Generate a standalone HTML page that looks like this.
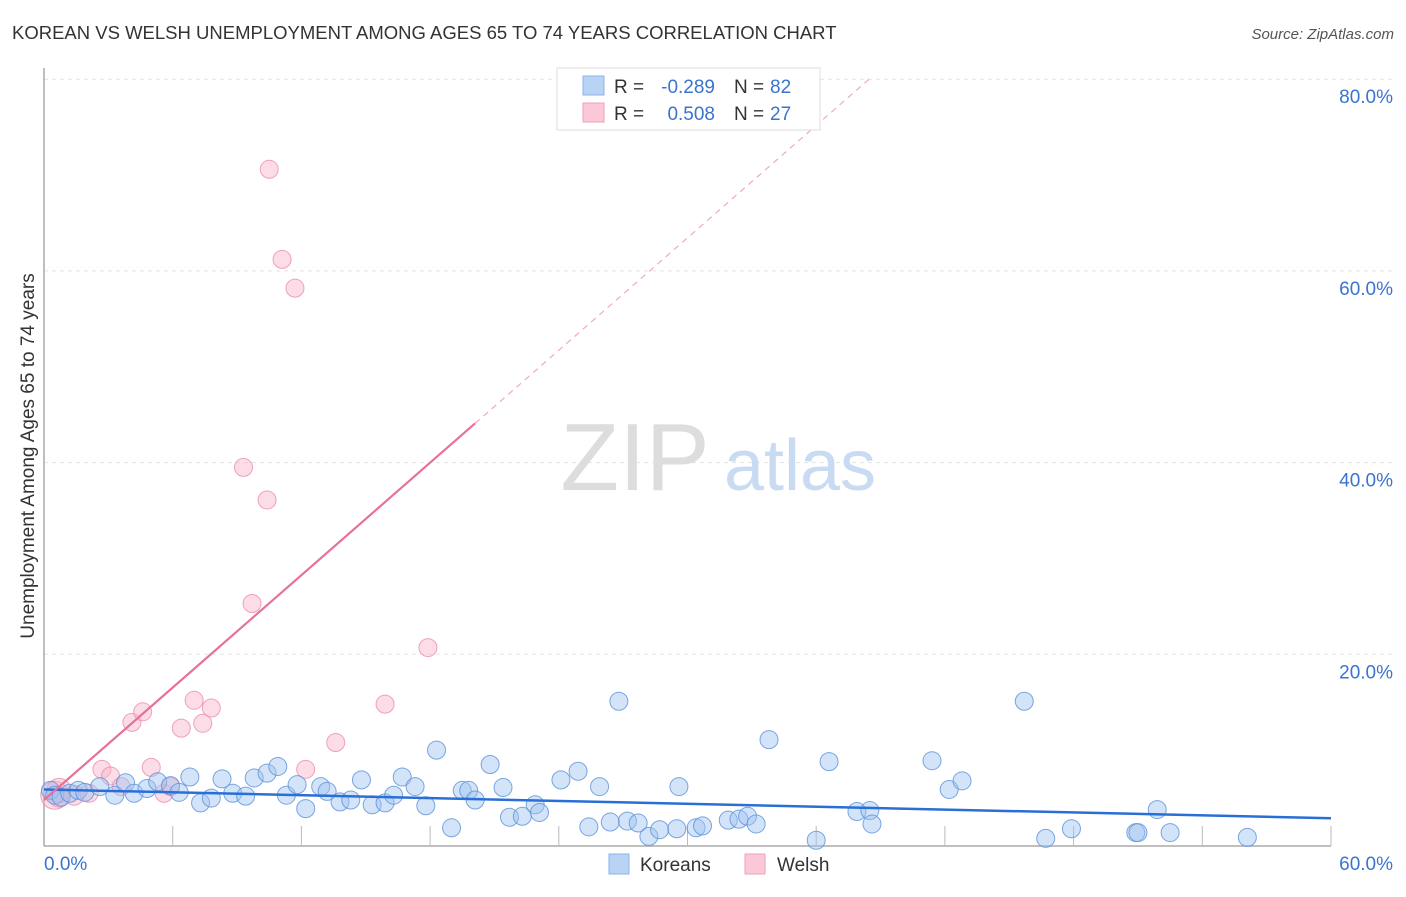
<!DOCTYPE html>
<html><head><meta charset="utf-8">
<style>
body{margin:0;background:#fff;font-family:"Liberation Sans",sans-serif;}
svg text{font-family:"Liberation Sans",sans-serif;}
</style></head>
<body>
<svg id="chart" width="1406" height="892" viewBox="0 0 1406 892" xmlns="http://www.w3.org/2000/svg">
<text x="12" y="39" font-size="18.5" fill="#333">KOREAN VS WELSH UNEMPLOYMENT AMONG AGES 65 TO 74 YEARS CORRELATION CHART</text>
<text x="1394" y="39" font-size="15" fill="#555" font-style="italic" text-anchor="end">Source: ZipAtlas.com</text>
<g id="grid"></g>
<text x="635" y="490" font-size="96" fill="#ddd" text-anchor="middle" font-family="Liberation Serif">ZIP</text>
<text x="800" y="490" font-size="72" fill="#c9dbf3" text-anchor="middle">atlas</text>
<g id="axes"></g>
<g id="welsh"></g>
<g id="korean"></g>
<g id="trends"></g>
<text x="34" y="456" font-size="19" fill="#333" text-anchor="middle" transform="rotate(-90 34 456)">Unemployment Among Ages 65 to 74 years</text>
<g>
<rect x="557" y="68" width="263" height="62" fill="#fff" stroke="#ddd"/>
<rect x="583" y="76" width="21" height="19" fill="#b9d3f5" stroke="#8bb3ea"/>
<rect x="583" y="103" width="21" height="19" fill="#fbc8d7" stroke="#f0a0b8"/>
<text x="614" y="93" font-size="19" fill="#333">R =</text>
<text x="715" y="93" font-size="19" fill="#3a74d0" text-anchor="end">-0.289</text>
<text x="734" y="93" font-size="19" fill="#333">N =</text>
<text x="770" y="93" font-size="19" fill="#3a74d0">82</text>
<text x="614" y="120" font-size="19" fill="#333">R =</text>
<text x="715" y="120" font-size="19" fill="#3a74d0" text-anchor="end">0.508</text>
<text x="734" y="120" font-size="19" fill="#333">N =</text>
<text x="770" y="120" font-size="19" fill="#3a74d0">27</text>
</g>
<g>
<rect x="609" y="854" width="20" height="20" fill="#b9d3f5" stroke="#8bb3ea"/>
<text x="640" y="871" font-size="19" fill="#333">Koreans</text>
<rect x="745" y="854" width="20" height="20" fill="#fbc8d7" stroke="#f0a0b8"/>
<text x="777" y="871" font-size="19" fill="#333">Welsh</text>
</g>
</svg>
<script>
const xTicks=[0,6,12,18,24,30,36,42,48,54,60];
const yTicks=[20,40,60,80];
const yTickLabels=["20.0%","40.0%","60.0%","80.0%"];
const koreanX=[0.3,0.5,0.8,1.2,1.6,1.9,2.6,3.3,3.8,4.2,4.8,5.3,5.9,6.3,6.8,7.3,7.8,8.3,8.8,9.4,9.8,10.4,10.9,11.3,11.8,12.2,12.9,13.2,13.8,14.3,14.8,15.3,15.9,16.3,16.7,17.3,17.8,18.3,19.0,19.5,19.8,20.1,20.8,21.4,21.7,22.3,22.9,23.1,24.1,24.9,25.4,25.9,26.4,26.8,27.2,27.7,28.2,28.7,29.5,29.6,30.4,30.7,31.9,32.4,32.8,33.2,33.8,36.0,36.6,37.9,38.5,38.6,41.4,42.2,42.8,45.7,46.7,47.9,50.9,51.0,51.9,52.5,56.1];
const koreanY=[5.8,5.3,5.1,5.5,5.8,5.6,6.2,5.3,6.6,5.5,6.0,6.7,6.3,5.6,7.2,4.5,5.0,7.0,5.5,5.2,7.1,7.6,8.3,5.3,6.4,3.9,6.2,5.7,4.6,4.8,6.9,4.3,4.5,5.3,7.2,6.2,4.2,10.0,1.9,5.8,5.8,4.8,8.5,6.1,3.0,3.1,4.3,3.5,6.9,7.8,2.0,6.2,2.5,15.1,2.6,2.4,1.0,1.7,1.8,6.2,1.9,2.1,2.7,2.8,3.1,2.3,11.1,0.6,8.8,3.6,3.7,2.3,8.9,5.9,6.8,15.1,0.8,1.8,1.4,1.4,3.8,1.4,0.9];
const welshX=[0.5,0.7,1.4,2.1,2.7,3.1,3.6,4.1,4.6,5.0,5.6,5.9,6.4,7.0,7.4,7.8,9.3,9.7,10.4,10.5,11.1,11.7,12.2,13.6,15.9,17.9,0.7];
const welshY=[5.3,5.1,5.3,5.5,8.0,7.3,6.2,12.9,14.0,8.2,5.5,6.2,12.3,15.2,12.8,14.4,39.5,25.3,36.1,70.6,61.2,58.2,8.0,10.8,14.8,20.7,5.8];
const welshR=[14,10,10,9,9,9,9,9,9,9,9,9,9,9,9,9,9,9,9,9,9,9,9,9,9,9,12];
const koreanTrend=[5.9,2.9];
const welshTrend=[4.8,1.955];
const NS="http://www.w3.org/2000/svg";
const X0=44,X1=1331,Y0=846,YPER=9.585;
function sx(v){return X0+(X1-X0)*v/60;}
function sy(v){return Y0-v*YPER;}
function mk(tag,attrs,parent){const e=document.createElementNS(NS,tag);for(const k in attrs)e.setAttribute(k,attrs[k]);parent.appendChild(e);return e;}
const gridG=document.getElementById('grid'),axesG=document.getElementById('axes');
yTicks.forEach((t,i)=>{
 const g=mk('line',{x1:X0,x2:1394,y1:sy(t),y2:sy(t),stroke:'#e3e3e3','stroke-dasharray':'4,4'},gridG);
 
 
 const tx=mk('text',{x:1393,y:sy(t)+24,'font-size':19,fill:'#3a74d0','text-anchor':'end'},axesG);
 tx.textContent=yTickLabels[i];
 
 
});
const ya=mk('line',{x1:X0,x2:X0,y1:68,y2:Y0,stroke:'#aaa','stroke-width':1.5},axesG);


const xa=mk('line',{x1:X0,x2:X1,y1:Y0,y2:Y0,stroke:'#aaa','stroke-width':1.5},axesG);


xTicks.forEach(t=>{
 if(t===0)return;
 const l=mk('line',{x1:sx(t),x2:sx(t),y1:826,y2:Y0,stroke:'#bbb'},axesG);
 
 
});
const xl0=mk('text',{x:44,y:870,'font-size':19,fill:'#3a74d0'},axesG);xl0.textContent='0.0%';


const xl1=mk('text',{x:1393,y:870,'font-size':19,fill:'#3a74d0','text-anchor':'end'},axesG);xl1.textContent='60.0%';


const wg=document.getElementById('welsh');
welshX.forEach((v,i)=>{
 const c=mk('circle',{cx:sx(v),cy:sy(welshY[i]),r:welshR[i],fill:'rgba(248,180,202,0.45)',stroke:'rgba(236,140,170,0.8)','stroke-width':1},wg);
 
 
});
const kg=document.getElementById('korean');
koreanX.forEach((v,i)=>{
 const c=mk('circle',{cx:sx(v),cy:sy(koreanY[i]),r:9,fill:'rgba(160,196,240,0.45)',stroke:'rgba(90,145,220,0.8)','stroke-width':1},kg);
 
 
});
const tg=document.getElementById('trends');
const kt=mk('line',{x1:sx(0),y1:sy(koreanTrend[0]),x2:sx(60),y2:sy(koreanTrend[1]),stroke:'#2a6fd6','stroke-width':2.5},tg);


const wEnd=20.1, wMax=(80-welshTrend[0])/welshTrend[1];
const wt=mk('line',{x1:sx(0),y1:sy(welshTrend[0]),x2:sx(wEnd),y2:sy(welshTrend[0]+welshTrend[1]*wEnd),stroke:'#e8709a','stroke-width':2.2},tg);


const wd=mk('line',{x1:sx(wEnd),y1:sy(welshTrend[0]+welshTrend[1]*wEnd),x2:sx(wMax),y2:sy(80),stroke:'#eeaac0','stroke-width':1.2,'stroke-dasharray':'6,5'},tg);


</script>
</body></html>
